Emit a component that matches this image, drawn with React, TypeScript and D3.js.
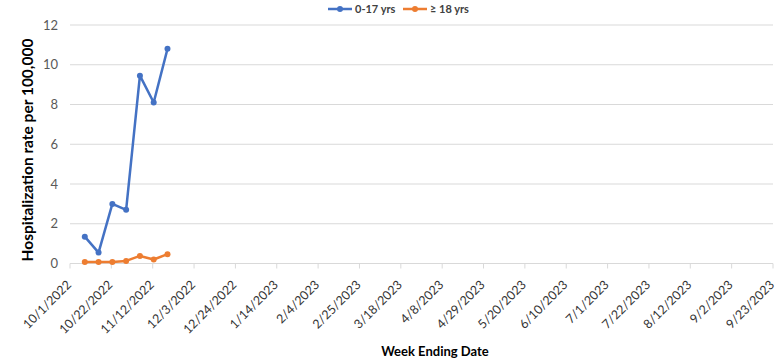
import React from "react";
import * as d3 from "d3";

const weekDates = ["2022-10-08", "2022-10-15", "2022-10-22", "2022-10-29", "2022-11-05", "2022-11-12", "2022-11-19"];
const child = [1.35, 0.55, 3.0, 2.7, 9.45, 8.1, 10.8];
const adult = [0.07, 0.07, 0.07, 0.13, 0.38, 0.2, 0.47];
const tickDates = ["2022-10-01", "2022-10-22", "2022-11-12", "2022-12-03", "2022-12-24", "2023-01-14", "2023-02-04", "2023-02-25", "2023-03-18", "2023-04-08", "2023-04-29", "2023-05-20", "2023-06-10", "2023-07-01", "2023-07-22", "2023-08-12", "2023-09-02", "2023-09-23"];
const yTicks = [0, 2, 4, 6, 8, 10, 12];
const seriesNames = ["0-17 yrs", "≥ 18 yrs"];
const colors = ["#4472C4", "#ED7D31"];

const parse = d3.utcParse("%Y-%m-%d");
const fmt = d3.utcFormat("%-m/%-d/%Y");

export default function App() {
  const W = 777, H = 360;
  const left = 70, right = 773, top = 25, bottom = 263.5;
  const x = d3.scaleUtc().domain([parse(tickDates[0])!, parse(tickDates[tickDates.length - 1])!]).range([left, right]);
  const y = d3.scaleLinear().domain([0, 12]).range([bottom, top]);
  const font = "Lato, 'Open Sans', sans-serif";
  const series = [child, adult];
  const line = d3.line<[Date, number]>().x(d => x(d[0]) + 1).y(d => y(d[1]));
  return (
    <svg width={W} height={H} style={{ position: "absolute", left: 0, top: 0, background: "#fff" }} fontFamily={font}>
      {yTicks.map(t => (
        <g key={t}>
          <line x1={left} x2={right} y1={y(t)} y2={y(t)} stroke="#d9d9d9" strokeWidth={1} />
          <text x={58} y={y(t)} dy="0.35em" textAnchor="end" fontSize={13} fill="#595959">{t}</text>
        </g>
      ))}
      {tickDates.map(td => {
        const tx = x(parse(td)!);
        return (
          <g key={td}>
            <line x1={tx} x2={tx} y1={bottom} y2={bottom + 5} stroke="#d9d9d9" />
            <text transform={`translate(${tx - 1},${bottom + 19}) rotate(-45)`} textAnchor="end" dy="0.35em" fontSize={12.5} fill="#333">{fmt(parse(td)!)}</text>
          </g>
        );
      })}
      {series.map((vals, i) => {
        const pts: [Date, number][] = vals.map((v, j) => [parse(weekDates[j])!, v]);
        return (
          <g key={i}>
            <path d={line(pts)!} fill="none" stroke={colors[i]} strokeWidth={2.5} strokeLinejoin="round" />
            {pts.map((p, j) => (
              <circle key={j} cx={x(p[0]) + 1} cy={y(p[1])} r={3} fill={colors[i]} />
            ))}
          </g>
        );
      })}
      <text transform={`translate(33,150) rotate(-90)`} textAnchor="middle" fontSize={15.5} fontWeight="bold" fill="#000">Hospitalization rate per 100,000</text>
      <text x={435} y={356} textAnchor="middle" fontSize={13} fontWeight="bold" fill="#000">Week Ending Date</text>
      {seriesNames.map((n, i) => {
        const lx = 328 + i * 75;
        return (
          <g key={n}>
            <line x1={lx} x2={lx + 24} y1={9} y2={9} stroke={colors[i]} strokeWidth={2.5} />
            <circle cx={lx + 12} cy={9} r={3} fill={colors[i]} />
            <text x={lx + 27} y={9} dy="0.35em" fontSize={11} fontWeight="bold" fill="#404040">{n}</text>
          </g>
        );
      })}
    </svg>
  );
}
